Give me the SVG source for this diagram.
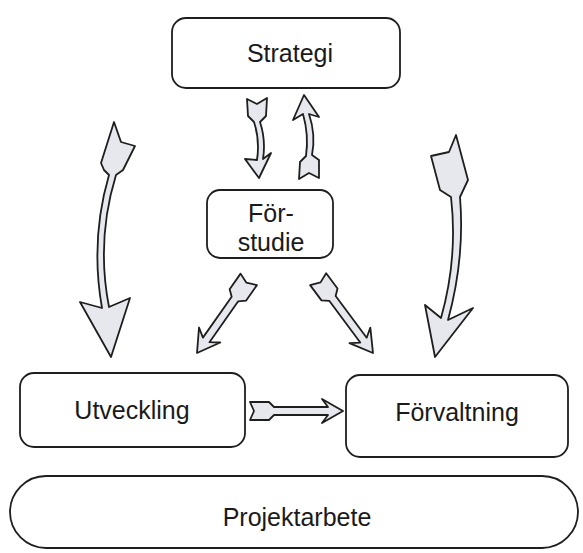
<svg xmlns="http://www.w3.org/2000/svg" width="583" height="553" viewBox="0 0 583 553">
<style>
.box{fill:#fff;stroke:#1e1e1e;stroke-width:1.8}
.lbl{font-family:"Liberation Sans",Arial,sans-serif;font-size:25px;fill:#1a1a1a;text-anchor:middle}
.arr{fill:#e7e8ee;stroke:#1e1e1e;stroke-width:1.8;stroke-linejoin:round}
</style>
<rect width="583" height="553" fill="#fff"/>
<g id="strategi"><rect class="box" x="172" y="18" width="228" height="70" rx="14"/><text class="lbl" x="290" y="62">Strategi</text></g>
<g id="forstudie"><rect class="box" x="207" y="190" width="126" height="68" rx="13"/><text class="lbl" x="271" y="222">För-</text><text class="lbl" x="271" y="251">studie</text></g>
<g id="utveckling"><rect class="box" x="20" y="373" width="225" height="74" rx="14"/><text class="lbl" x="132" y="419">Utveckling</text></g>
<g id="forvaltning"><rect class="box" x="346" y="375" width="222" height="82" rx="14"/><text class="lbl" x="457" y="421">Förvaltning</text></g>
<g id="projektarbete"><rect class="box" x="10" y="476" width="568" height="72" rx="36"/><text class="lbl" x="297" y="526">Projektarbete</text></g>
<g id="connectors">
<path class="arr" d="M114 122 L121 142 L135 146 L123 170 L116 175 Q96 240 109 307 L130 298 L111 357 L80 302 L102 308 Q90 240 109 175 L104 170 L101 163 Z"/>
<path class="arr" d="M456 135 L468 180 L460 197 Q465 258 448 320 L473 308 L435 357 L425 305 L441 318 Q458 258 451 197 L440 190 L431 156 L449 152 Z"/>
<path class="arr" d="M247 99 L257 104 L267 98 L266 116 L260 122 Q266 140 263 159 L271 153 L259 178 L245 159 L257 160 Q260 140 254 122 L248 116 Z"/>
<path class="arr" d="M304 95 L319 117 L309 114 Q316 135 312 155 L319 160 L319 178 L309 173 L299 179 L300 162 L306 156 Q309 135 303 114 L293 120 Z"/>
<path class="arr" transform="translate(343 411)" d="M0 0 L-21 -12 L-15 -4 L-69 -4 L-74 -9 L-93 -9 L-89 0 L-93 9 L-74 9 L-69 4 L-15 4 L-21 12 Z"/>
<path class="arr" transform="translate(197 353) rotate(125.1)" d="M0 0 L-22 -13 L-16 -4 L-66 -4 L-71 -10 L-90 -10 L-86 0 L-90 10 L-71 10 L-66 4 L-16 4 L-22 13 Z"/>
<path class="arr" transform="translate(373 353) rotate(53.4)" d="M0 0 L-22 -13 L-16 -4 L-68 -4 L-73 -10 L-92 -10 L-88 0 L-92 10 L-73 10 L-68 4 L-16 4 L-22 13 Z"/>
</g>
</svg>
